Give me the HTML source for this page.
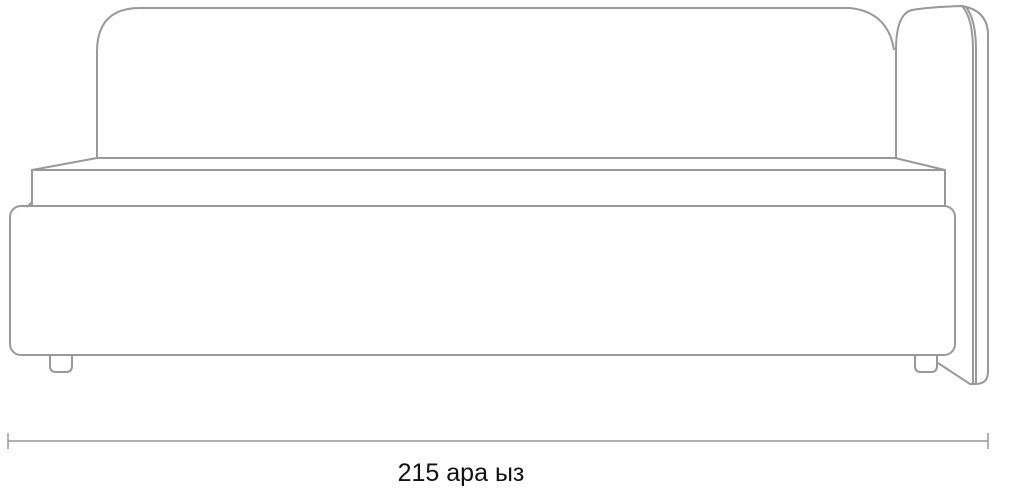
<html><body style="margin:0;background:#fff;width:1020px;height:488px;overflow:hidden">
<svg width="1020" height="488" viewBox="0 0 1020 488" style="position:absolute;left:0;top:0">
<g fill="none" stroke="#999" stroke-width="2" stroke-linejoin="round">
<path d="M97,158 L97,52 Q97,8 140,8 L850,8 Q888,12 894,50"/>
<path d="M896,158 L896,50 Q896,14 912,10 Q930,7 962,6 Q986,10 988,32 L988,372 Q988,384 975,384 L970,384 L938,363"/>
<path d="M962,6 Q973,18 973,50 L973,383"/>
<path d="M966,7 Q976,20 976,50 L976,383"/>
<path d="M97,158 L895,158 L945,170 L32,170 Z"/>
<rect x="32" y="170" width="913" height="36"/>
<rect x="10" y="206" width="945" height="149" rx="11"/>
<path d="M27,207 L32,202"/>
<path d="M50,355 L50,366 Q50,372 56,372 L66,372 Q72,372 72,366 L72,355"/>
<path d="M915,355 L915,366 Q915,372 921,372 L931,372 Q937,372 937,366 L937,355"/>
<path d="M8,441 L988,441 M8,433 L8,449 M988,433 L988,449" stroke-width="1.5"/>
</g>
<text x="461" y="481" text-anchor="middle" font-family="Liberation Sans, DejaVu Sans, sans-serif" font-size="25" fill="#111">215  ара ыз</text>
</svg>
</body></html>
